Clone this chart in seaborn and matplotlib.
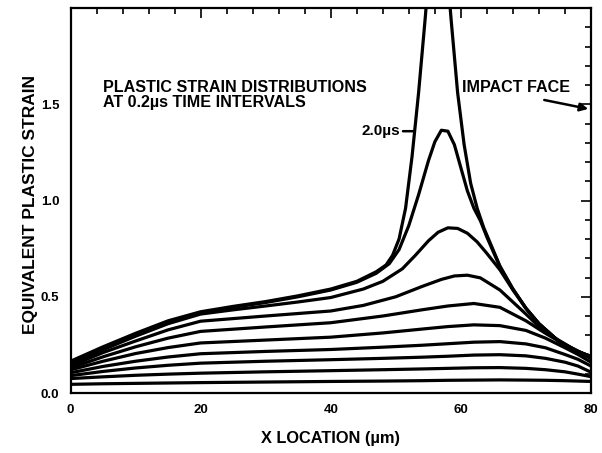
import numpy as np
import pandas as pd
import matplotlib
matplotlib.use("Agg")
import matplotlib.pyplot as plt
from matplotlib.ticker import FixedLocator, MultipleLocator
import seaborn as sns

sns.set_theme(style="white")
plt.rcParams['font.family'] = ['Liberation Sans', 'DejaVu Sans']
plt.rcParams['font.weight'] = 'bold'
plt.rcParams['text.color'] = 'black'
plt.rcParams['axes.labelcolor'] = 'black'
plt.rcParams['xtick.color'] = 'black'
plt.rcParams['ytick.color'] = 'black'

# ---- data ----
X_LOW = [0, 5, 10, 15, 20, 30, 40, 48, 54, 58, 62, 66, 70, 73, 76, 78, 80]
T02 = [0.045, 0.048, 0.050, 0.052, 0.054, 0.057, 0.060, 0.062, 0.064, 0.066, 0.067, 0.068,
       0.067, 0.066, 0.064, 0.062, 0.060]
T04 = [0.075, 0.084, 0.092, 0.098, 0.103, 0.110, 0.116, 0.121, 0.125, 0.128, 0.131, 0.132,
       0.128, 0.121, 0.110, 0.098, 0.085]
T06 = [0.090, 0.112, 0.130, 0.144, 0.155, 0.165, 0.173, 0.180, 0.186, 0.191, 0.197, 0.199,
       0.193, 0.180, 0.160, 0.140, 0.108]
T08 = [0.105, 0.138, 0.165, 0.187, 0.204, 0.216, 0.226, 0.238, 0.248, 0.256, 0.264, 0.267,
       0.255, 0.235, 0.200, 0.175, 0.140]
T10 = [0.120, 0.165, 0.205, 0.236, 0.260, 0.275, 0.290, 0.312, 0.332, 0.345, 0.354, 0.350,
       0.325, 0.285, 0.235, 0.200, 0.160]
T12 = [0.130, 0.188, 0.240, 0.285, 0.320, 0.343, 0.365, 0.400, 0.432, 0.452, 0.465, 0.445,
       0.375, 0.310, 0.250, 0.215, 0.178]

X_14 = [0, 5, 10, 15, 20, 30, 40, 45, 50, 54, 57, 59, 61, 63, 66, 70, 72, 74, 77, 80]
T14 = [0.140, 0.210, 0.270, 0.328, 0.373, 0.400, 0.426, 0.455, 0.500, 0.553, 0.590, 0.608,
       0.612, 0.598, 0.535, 0.410, 0.345, 0.295, 0.235, 0.185]

X_16 = [0, 5, 10, 15, 20, 25, 30, 35, 40, 45, 48, 51, 53, 55, 56.5, 58, 59.5, 61, 62.5, 64,
        66, 68, 70, 72, 75, 78, 80]
T16 = [0.150, 0.225, 0.295, 0.360, 0.410, 0.432, 0.452, 0.473, 0.496, 0.540, 0.580, 0.645,
       0.715, 0.790, 0.835, 0.858, 0.855, 0.830, 0.785, 0.725, 0.640, 0.535, 0.440, 0.360,
       0.270, 0.215, 0.190]

X_18 = [0, 5, 10, 15, 20, 25, 30, 35, 40, 44, 47, 49, 50.5, 52, 53.5, 55, 56, 57, 58, 59,
        60, 61, 62, 63, 64, 66, 68, 70, 72, 75, 78, 80]
T18 = [0.160, 0.235, 0.305, 0.370, 0.417, 0.445, 0.470, 0.500, 0.535, 0.575, 0.622, 0.672,
       0.745, 0.870, 1.030, 1.205, 1.305, 1.365, 1.360, 1.290, 1.170, 1.050, 0.960, 0.895,
       0.810, 0.655, 0.540, 0.440, 0.360, 0.270, 0.215, 0.190]

X_20 = [0, 5, 10, 15, 20, 25, 30, 35, 40, 44, 47, 48.5, 49.5, 50.5, 51.5, 52.5, 53.5, 54.5,
        55.5, 56.5, 57.5, 58.5, 59.5, 60.5, 61.5, 62.5, 63.5, 65, 66, 68, 70, 72, 75, 78, 80]
T20 = [0.165, 0.240, 0.310, 0.375, 0.422, 0.450, 0.475, 0.505, 0.540, 0.580, 0.630, 0.665,
       0.715, 0.800, 0.960, 1.230, 1.560, 1.940, 2.350, 2.700, 2.350, 1.940, 1.560, 1.290,
       1.090, 0.960, 0.860, 0.740, 0.660, 0.540, 0.440, 0.360, 0.270, 0.215, 0.190]

TIMES = ["0.2", "0.4", "0.6", "0.8", "1.0", "1.2", "1.4", "1.6", "1.8", "2.0"]
SERIES = [(X_LOW, T02), (X_LOW, T04), (X_LOW, T06), (X_LOW, T08), (X_LOW, T10),
          (X_LOW, T12), (X_14, T14), (X_16, T16), (X_18, T18), (X_20, T20)]

Y_TICKS = [0.0, 0.5, 1.0, 1.5]
Y_TICK_LABELS = ["0.0", "0.5", "1.0", "1.5"]
X_TICKS = [0, 20, 40, 60, 80]
X_TICK_LABELS = ["0", "20", "40", "60", "80"]

rows = []
for t, (xs, ys) in zip(TIMES, SERIES):
    for xv, yv in zip(xs, ys):
        rows.append({"time": t, "x": xv, "strain": yv})
df = pd.DataFrame(rows)

# ---- figure ----
W, H = 602, 453
fig = plt.figure(figsize=(W / 100, H / 100), dpi=100)
ax = fig.add_axes([70.5 / W, 1 - 393 / H, (591 - 70.5) / W, (393 - 8) / H])

sns.lineplot(data=df, x="x", y="strain", units="time", estimator=None, sort=False,
             color="black", linewidth=2.3, ax=ax, legend=False)
for ln in ax.get_lines():
    ln.set_solid_joinstyle("round")
    ln.set_solid_capstyle("round")

ax.set_xlim(0, 80)
ax.set_ylim(0, 2.0)
ax.xaxis.set_major_locator(FixedLocator(X_TICKS))
ax.set_xticklabels(X_TICK_LABELS)
ax.xaxis.set_minor_locator(MultipleLocator(4))
ax.yaxis.set_major_locator(FixedLocator(Y_TICKS))
ax.set_yticklabels(Y_TICK_LABELS)
ax.yaxis.set_minor_locator(MultipleLocator(0.1))

ax.tick_params(which="both", direction="in", top=True, right=True, colors="black",
               labelsize=9.5, width=1.2)
ax.tick_params(which="major", length=7, pad=8)
ax.tick_params(which="minor", length=4)
for lab in ax.get_xticklabels() + ax.get_yticklabels():
    lab.set_fontweight("bold")

for sp in ax.spines.values():
    sp.set_color("black")
    sp.set_linewidth(1.6)

ax.set_xlabel("X LOCATION (µm)", fontsize=11.8, fontweight="bold")
ax.xaxis.set_label_coords(0.5, -0.10)
ax.set_ylabel("EQUIVALENT PLASTIC STRAIN", fontsize=12.5, fontweight="bold")
ax.yaxis.set_label_coords(-0.062, 0.49)

ax.text(5.0, 1.625, "PLASTIC STRAIN DISTRIBUTIONS\nAT 0.2µs TIME INTERVALS",
        fontsize=11.6, fontweight="bold", ha="left", va="top", linespacing=0.95)
ax.text(60.1, 1.585, "IMPACT FACE", fontsize=11.6, fontweight="bold", ha="left", va="center")
ax.annotate("", xy=(80, 1.473), xytext=(72.4, 1.525), annotation_clip=False,
            arrowprops=dict(arrowstyle="-|>", lw=1.8, color="black", mutation_scale=12))
ax.annotate("2.0µs", xy=(52.9, 1.36), xytext=(50.6, 1.36), ha="right", va="center",
            fontsize=11, fontweight="bold",
            arrowprops=dict(arrowstyle="-", lw=1.8, color="black", shrinkA=0, shrinkB=0))

fig.savefig("out.png", dpi=100, facecolor="white")
